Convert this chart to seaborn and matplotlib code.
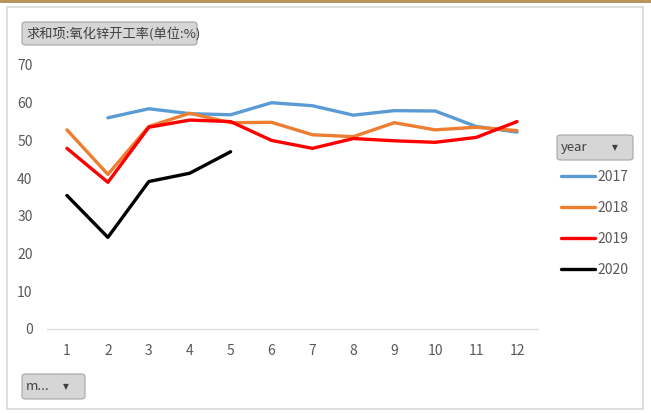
#!/usr/bin/env python3
# coding: utf-8
import pandas as pd
import seaborn as sns
import matplotlib.pyplot as plt
from matplotlib.patches import FancyBboxPatch, Rectangle

# ------------------------------------------------
# Data
# ------------------------------------------------
months = list(range(1, 13))
years = ["2017", "2018", "2019", "2020"]
rate_2017 = [None, 56.0, 58.4, 57.1, 56.8, 60.0, 59.2, 56.7, 57.9, 57.8, 53.7, 52.2]
rate_2018 = [52.8, 41.0, 53.7, 57.2, 54.7, 54.8, 51.5, 51.0, 54.7, 52.8, 53.5, 52.6]
rate_2019 = [47.9, 38.9, 53.5, 55.4, 55.0, 50.0, 47.9, 50.5, 49.9, 49.5, 50.8, 55.0]
rate_2020 = [35.4, 24.3, 39.1, 41.3, 47.0]
colors = ["#5B9BD5", "#ED7D31", "#FF0000", "#000000"]

title = "求和项:氧化锌开工率(单位:%)"

rows = []
for year, vals in zip(years, [rate_2017, rate_2018, rate_2019, rate_2020]):
    for m, v in zip(months, vals):
        if v is not None:
            rows.append({"month": m, "rate": v, "year": year})
data = pd.DataFrame(rows)

# ------------------------------------------------
# Plot
# ------------------------------------------------
sns.set_style("white")
plt.rcParams['font.family'] = ['Noto Sans CJK SC', 'DejaVu Sans']

W, H = 651, 413
fig = plt.figure(figsize=(W / 100, H / 100), dpi=100)
ax = fig.add_axes([46.5 / W, 1 - 329 / H, 491 / W, 264 / H])

sns.lineplot(data=data, x="month", y="rate", hue="year", hue_order=years,
             palette=colors, linewidth=2.4, ax=ax, legend=False, sort=False)

ax.set_xlim(0.5, 12.5)
ax.set_ylim(0, 70)
ax.set_xticks(months)
ax.set_yticks(range(0, 71, 10))
ax.set_xlabel("")
ax.set_ylabel("")
for s in ["top", "right", "left"]:
    ax.spines[s].set_visible(False)
ax.spines["bottom"].set_color("#D9D9D9")
ax.spines["bottom"].set_linewidth(0.9)
ax.tick_params(axis="both", length=0, labelsize=10, labelcolor="#595959")
ax.tick_params(axis="x", pad=11)
ax.tick_params(axis="y", pad=10)

# legend
handles = [plt.Line2D([], [], color=c, lw=2.4) for c in colors]
fig.legend(handles, years, loc="upper left", bbox_to_anchor=(557 / W, 1 - 166 / H),
           frameon=False, fontsize=10, labelcolor="#595959", handlelength=2.4,
           handletextpad=0.2, labelspacing=1.22, borderaxespad=0, borderpad=0.3)

# outer frame and top rule
fig.patches.append(Rectangle((7 / W, 1 - 409 / H), 636 / W, 402 / H,
                             transform=fig.transFigure, fill=False,
                             edgecolor="#D9D9D9", lw=1.2))
fig.patches.append(Rectangle((0, 1 - 2.5 / H), 1, 2.5 / H,
                             transform=fig.transFigure, color="#B8955A", lw=0))


def button(x0, y0, x1, y1, label, arrow=None):
    fig.patches.append(FancyBboxPatch((x0 / W, 1 - y1 / H), (x1 - x0) / W, (y1 - y0) / H,
                                      boxstyle="round,pad=0,rounding_size=0.006",
                                      transform=fig.transFigure, facecolor="#D6D6D6",
                                      edgecolor="#A6A6A6", lw=0.8))
    fig.text((x0 + 4) / W, 1 - (y0 + y1) / 2 / H, label, ha="left", va="center",
             fontsize=9.5, color="#404040")
    if arrow is not None:
        fig.text(arrow / W, 1 - (y0 + y1) / 2 / H, "▼", ha="center", va="center",
                 fontsize=5.5, color="#404040", family="DejaVu Sans")


button(22, 22, 197, 45, title)
button(557, 135, 633, 160, "year", arrow=615)
button(22, 374, 85, 399, "m...", arrow=66)

plt.savefig("out.png", dpi=100)
plt.close(fig)
